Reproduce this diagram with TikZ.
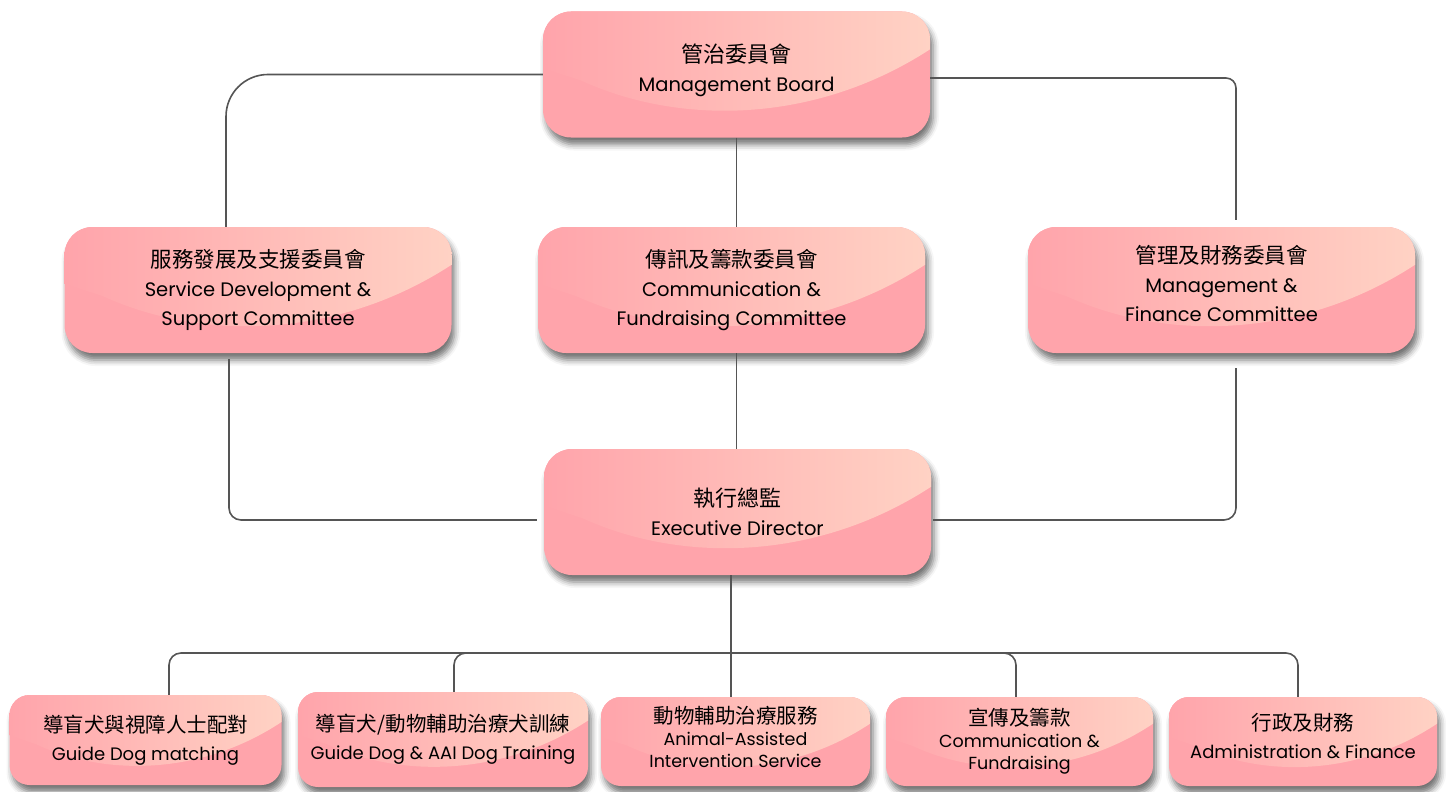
\documentclass[tikz,border=0pt]{standalone}
\usepackage{fontspec}
\setmainfont{Poppins}
\newfontfamily\cjk{Noto Sans CJK TC}
\usetikzlibrary{calc,shadows.blur}

\definecolor{boxpink}{RGB}{255,164,171}
\definecolor{boxpeach}{RGB}{255,210,196}
\definecolor{linkgray}{RGB}{85,85,85}

\newcommand{\zh}[2][22]{{\cjk\fontsize{#1}{28}\selectfont #2}}
\newcommand{\lift}[1]{\rule[-#1pt]{0pt}{1pt}}

\tikzset{
  orgbox/.style={rounded corners=28pt, fill=boxpink, align=center,
    minimum width=387pt, minimum height=126pt, inner sep=0pt,
    font=\fontsize{19.5}{29}\selectfont,
    blur shadow={shadow xshift=3pt, shadow yshift=-7pt,
      shadow blur radius=6pt, shadow opacity=55},
    path picture={
      \shade[sharp corners, left color=boxpink, right color=boxpeach]
        let \p1=(path picture bounding box.south west),
            \p2=(path picture bounding box.north east),
            \n1={\x2-\x1}, \n2={\y2-\y1} in
        (\x1,\y2) -- (\x2,\y2) -- (\x2,{\y2-0.3*\n2})
        .. controls ({\x2-0.3*\n1},{\y1+0.1*\n2}) and ({\x1+0.35*\n1},{\y1+0.1*\n2})
        .. ({\x1+0.1*\n1},{\y1+0.45*\n2})
        -- (\x1,{\y1+0.55*\n2}) -- cycle;
    }},
  smallbox/.style={orgbox, rounded corners=20pt, minimum height=89pt,
    font=\fontsize{18}{28}\selectfont},
  tightbox/.style={smallbox, font=\fontsize{17.5}{22}\selectfont},
  link/.style={draw=linkgray, line width=1.6pt}
}

\begin{document}
\begin{tikzpicture}[x=1pt,y=-1pt]
\useasboundingbox (0,0) rectangle (1446,792);

% board and committees
\node[orgbox] (mb) at (736.5,74.5) {\zh{管治委員會}\\Management Board\lift{13}};
\node[orgbox] (sd) at (258,290) {\zh[21.5]{服務發展及支援委員會}\\Service Development \&\\Support Committee};
\node[orgbox] (cf) at (731.5,290) {\zh[21.5]{傳訊及籌款委員會}\\Communication \&\\Fundraising Committee};
\node[orgbox] (mf) at (1221.5,290) {\zh[21.5]{管理及財務委員會}\\Management \&\\Finance Committee\lift{14}};
\node[orgbox] (ed) at (737.5,512) {\zh{執行總監}\\Executive Director};

% units
\node[smallbox, minimum width=272pt, minimum height=90pt] (gm) at (145.5,740) {\zh[20.5]{導盲犬與視障人士配對}\\Guide Dog matching};
\node[smallbox, minimum width=290pt, minimum height=95pt] (gt) at (443,739.5) {\zh[20.5]{導盲犬/動物輔助治療犬訓練}\\Guide Dog \& AAI Dog Training};
\node[tightbox, minimum width=269pt] (aa) at (735.5,741.5) {\zh[20.5]{動物輔助治療服務}\\Animal-Assisted\\Intervention Service\lift{9}};
\node[tightbox, minimum width=267pt] (cm) at (1019.5,741.5) {\zh[20.5]{宣傳及籌款}\\Communication \&\\Fundraising};
\node[smallbox, minimum width=268pt] (ad) at (1303,741.5) {\zh[20.5]{行政及財務}\\Administration \& Finance\lift{12}};

\coordinate (hub) at (731,653);

\draw[link, rounded corners=42pt] (mb.west) -| ([xshift=-32pt]sd.north);
\draw[link, rounded corners=10pt] ([yshift=-3.5pt]mb.east) -| ([xshift=14.5pt,yshift=7pt]mf.north);
\draw[link] (mb.south) -- (mb.south |- cf.north);
\draw[link] (mb.south |- cf.south) -- (mb.south |- ed.north);
\draw[link, rounded corners=12pt] ([xshift=-29pt,yshift=-6pt]sd.south) |- ([xshift=-7pt,yshift=-8pt]ed.west);
\draw[link, rounded corners=12pt] ([xshift=14.5pt,yshift=-15pt]mf.south) |- ([xshift=2pt,yshift=-8pt]ed.east);
\draw[link] (hub |- ed.south) -- (hub |- aa.north);
\foreach \b/\dx in {gm/23.5, gt/11, cm/-3.5, ad/-5}
  \draw[link, rounded corners=12pt] ([xshift=\dx pt]\b.north) |- (hub);
\end{tikzpicture}
\end{document}
